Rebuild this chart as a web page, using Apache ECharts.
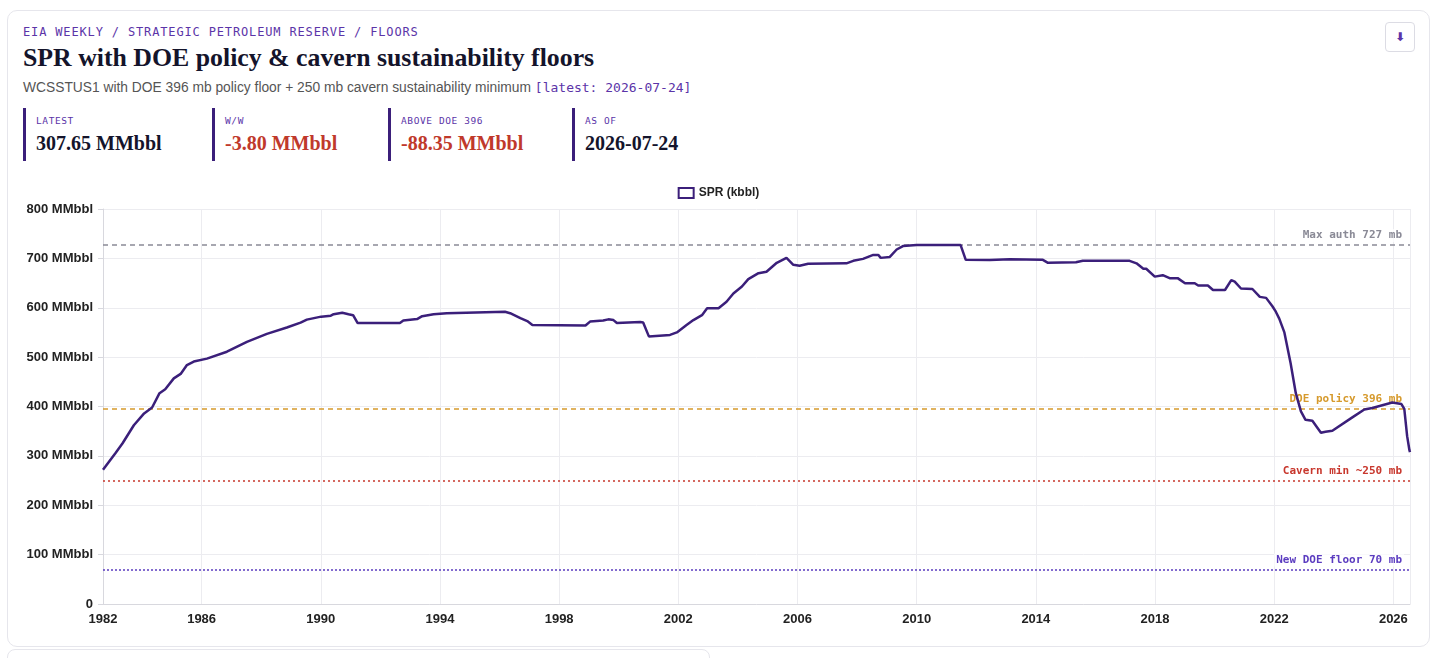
<!DOCTYPE html>
<html>
<head>
<meta charset="utf-8">
<script src="https://cdn.jsdelivr.net/npm/echarts@6/dist/echarts.min.js"></script>
<style>
  html, body { margin:0; padding:0; background:#fff; width:1439px; height:658px; overflow:hidden; }
  .card { position:absolute; left:7px; top:10px; width:1421px; height:635px; border:1px solid #e6e6ec; border-radius:10px; background:#fff; }
  .card2 { position:absolute; left:7px; top:649px; width:701px; height:40px; border:1px solid #e6e6ec; border-radius:8px; background:#fff; }
  .kicker { position:absolute; left:23px; top:25px; font-family:"DejaVu Sans Mono", monospace; font-size:12px; letter-spacing:0.85px; color:#5b34a8; white-space:nowrap; }
  .title { position:absolute; left:23px; top:43px; font-family:"Liberation Serif", serif; font-weight:bold; font-size:25.8px; color:#14142b; white-space:nowrap; }
  .sub { position:absolute; left:23px; top:80px; font-family:"Liberation Sans", sans-serif; font-size:13.8px; color:#555; white-space:nowrap; }
  .sub .mono { font-family:"DejaVu Sans Mono", monospace; font-size:13px; color:#5b34a8; }
  .kpi { position:absolute; top:108px; height:53px; border-left:3px solid #3b1f7a; padding-left:10px; }
  .kpi .lab { position:absolute; left:10px; top:7px; font-family:"DejaVu Sans Mono", monospace; font-size:9.5px; letter-spacing:0.6px; color:#5b34a8; white-space:nowrap; }
  .kpi .val { position:absolute; left:10px; top:24px; font-family:"Liberation Serif", serif; font-weight:bold; font-size:20px; color:#14142b; white-space:nowrap; }
  .kpi .val.neg { color:#c0392b; }
  .btn { position:absolute; left:1385px; top:22px; width:30px; height:30px; border:1px solid #dcdce4; border-radius:4px; box-sizing:border-box; text-align:center; line-height:28px; font-family:"DejaVu Sans", sans-serif; font-size:12px; color:#5b34a8; font-weight:bold; }
  #chart { position:absolute; left:8px; top:170px; width:1421px; height:470px; }
</style>
</head>
<body>
<div class="card"></div>
<div class="card2"></div>
<div class="kicker">EIA WEEKLY / STRATEGIC PETROLEUM RESERVE / FLOORS</div>
<div class="title">SPR with DOE policy &amp; cavern sustainability floors</div>
<div class="sub">WCSSTUS1 with DOE 396 mb policy floor + 250 mb cavern sustainability minimum <span class="mono">[latest: 2026-07-24]</span></div>
<div class="kpi" style="left:23px"><div class="lab">LATEST</div><div class="val">307.65 MMbbl</div></div>
<div class="kpi" style="left:212px"><div class="lab">W/W</div><div class="val neg">-3.80 MMbbl</div></div>
<div class="kpi" style="left:388px"><div class="lab">ABOVE DOE 396</div><div class="val neg">-88.35 MMbbl</div></div>
<div class="kpi" style="left:572px"><div class="lab">AS OF</div><div class="val">2026-07-24</div></div>
<div class="btn">&#x2B07;</div>
<div id="chart"></div>
<script>
// ---- data ----
const dates = [
  '1982-09-10','1983-02-11','1983-05-06','1983-09-23','1984-01-27','1984-05-04','1984-08-03','1984-10-12',
  '1985-01-25','1985-04-19','1985-07-05','1985-09-27','1986-03-07','1986-11-07','1987-07-10','1988-03-11',
  '1988-11-11','1989-04-28','1989-07-14','1990-01-05','1990-05-04','1990-06-08','1990-09-21','1990-12-07',
  '1991-02-01','1991-03-29','1992-08-28','1992-10-09','1993-03-26','1993-05-28','1993-10-15','1994-03-25',
  '1994-04-15','1996-03-08','1996-05-10','1996-09-13','1996-12-06','1997-02-07','1998-11-20','1999-01-15',
  '1999-06-25','1999-08-27','1999-10-29','1999-12-10','2000-09-22','2000-10-27','2001-01-05','2001-09-21',
  '2001-12-14','2002-04-12','2002-07-05','2002-10-18','2002-12-20','2003-05-09','2003-08-15','2003-11-07',
  '2004-02-20','2004-05-08','2004-09-10','2004-12-17','2005-04-22','2005-08-19','2005-11-11','2006-01-27',
  '2006-05-12','2007-08-24','2007-11-16','2008-03-14','2008-07-18','2008-09-19','2008-10-17','2009-02-06',
  '2009-05-01','2009-07-17','2010-01-01','2011-06-24','2011-08-26','2012-06-15','2013-02-15','2014-03-28',
  '2014-05-30','2015-05-08','2015-07-31','2017-02-24','2017-05-19','2017-08-11','2017-09-15','2017-12-29',
  '2018-04-06','2018-06-29','2018-10-05','2019-01-04','2019-05-03','2019-06-14','2019-10-11','2019-12-13',
  '2020-05-08','2020-07-24','2020-09-04','2020-11-20','2021-04-09','2021-07-09','2021-09-24','2021-12-10',
  '2022-01-21','2022-03-04','2022-05-06','2022-07-22','2022-09-23','2022-11-25','2023-01-20','2023-04-14',
  '2023-07-28','2023-09-22','2023-12-15','2024-08-16','2025-01-10','2025-04-18','2025-12-19','2026-04-10',
  '2026-05-15','2026-06-19','2026-07-17','2026-07-24'
];
const sprMMbbl = [
  272, 306, 325, 362, 386, 398, 427, 435,
  457, 466, 484, 491, 497, 511, 531, 547,
  560, 570, 576, 582, 584, 587, 590, 587,
  585, 569, 569, 574, 577, 583, 587, 589,
  592, 592, 589, 579, 573, 565, 564, 572,
  574, 576.5, 575, 569, 571, 570, 542, 545,
  550, 565, 575, 585, 599, 599, 612, 629,
  643, 658, 670, 673, 691, 701, 687, 685,
  689, 690, 695, 699, 707, 707, 701, 703,
  718, 725, 727, 727, 697, 696.7, 698, 697,
  691, 692, 695, 695, 690, 679, 679, 663,
  666, 660, 660, 649.5, 649.5, 645, 645, 636,
  636, 656, 653, 639, 638, 622, 620, 603,
  592, 578, 550, 487, 427, 390, 373, 371,
  347, 349, 351, 378, 394, 397, 408, 405,
  395, 340, 311.45, 307.65
];
const floorValues = [727, 396, 250, 70];
const floorLabels = ['Max auth 727 mb', 'DOE policy 396 mb', 'Cavern min ~250 mb', 'New DOE floor 70 mb'];
const yTickValues = [0, 100, 200, 300, 400, 500, 600, 700, 800];

// ---- styles ----
const floorStyles = [
  { color:'#8a8a96', type:[5,4] },
  { color:'#d69a2d', type:[5,4] },
  { color:'#c8372d', type:[2,3] },
  { color:'#5b3cc0', type:[2,2] }
];
const LINE = '#3b1f7a';
const chart = echarts.init(document.getElementById('chart'));
const markData = floorValues.map((v, i) => ({
  yAxis: v,
  lineStyle: { color: floorStyles[i].color, type: floorStyles[i].type, width: 1.5 },
  label: {
    show: true, position: 'insideEndTop', formatter: floorLabels[i],
    color: floorStyles[i].color, fontFamily: 'DejaVu Sans Mono', fontSize: 11, fontWeight: 'bold',
    backgroundColor: 'rgba(255,255,255,0.7)', padding: [1, 2], distance: [6, 3]
  }
}));
chart.setOption({
  animation: false,
  legend: {
    top: 12, left: 'center', icon: 'rect', itemWidth: 15, itemHeight: 10,
    itemStyle: { color: '#fff', borderColor: LINE, borderWidth: 2 },
    textStyle: { fontFamily: 'Liberation Sans', fontWeight: 'bold', fontSize: 12, color: '#222' }
  },
  grid: { left: 95, right: 19, top: 39, bottom: 36, containLabel: false },
  xAxis: {
    type: 'time', min: 'dataMin', max: 'dataMax', splitNumber: 10,
    axisLine: { lineStyle: { color: '#d8d8de' } },
    axisTick: { show: false },
    splitLine: { show: true, lineStyle: { color: '#ececf0' } },
    axisLabel: {
      formatter: '{yyyy}', showMinLabel: true, showMaxLabel: false, margin: 9,
      fontFamily: 'Liberation Sans', fontWeight: 'bold', fontSize: 13, color: '#222'
    }
  },
  yAxis: {
    type: 'value', min: yTickValues[0], max: yTickValues[yTickValues.length - 1], interval: 100,
    axisLine: { show: true, lineStyle: { color: '#d8d8de' } },
    axisTick: { show: true, length: 5, lineStyle: { color: '#d8d8de' } },
    splitLine: { lineStyle: { color: '#ececf0' } },
    axisLabel: {
      formatter: v => v === 0 ? '0' : v + ' MMbbl', margin: 10,
      fontFamily: 'Liberation Sans', fontWeight: 'bold', fontSize: 13, color: '#222'
    }
  },
  series: [{
    name: 'SPR (kbbl)', type: 'line', showSymbol: false, symbol: 'none',
    data: dates.map((d, i) => [d, sprMMbbl[i]]),
    lineStyle: { color: LINE, width: 2.5 },
    itemStyle: { color: LINE },
    markLine: { silent: true, symbol: 'none', data: markData, z: 3 }
  }]
});
</script>
</body>
</html>
